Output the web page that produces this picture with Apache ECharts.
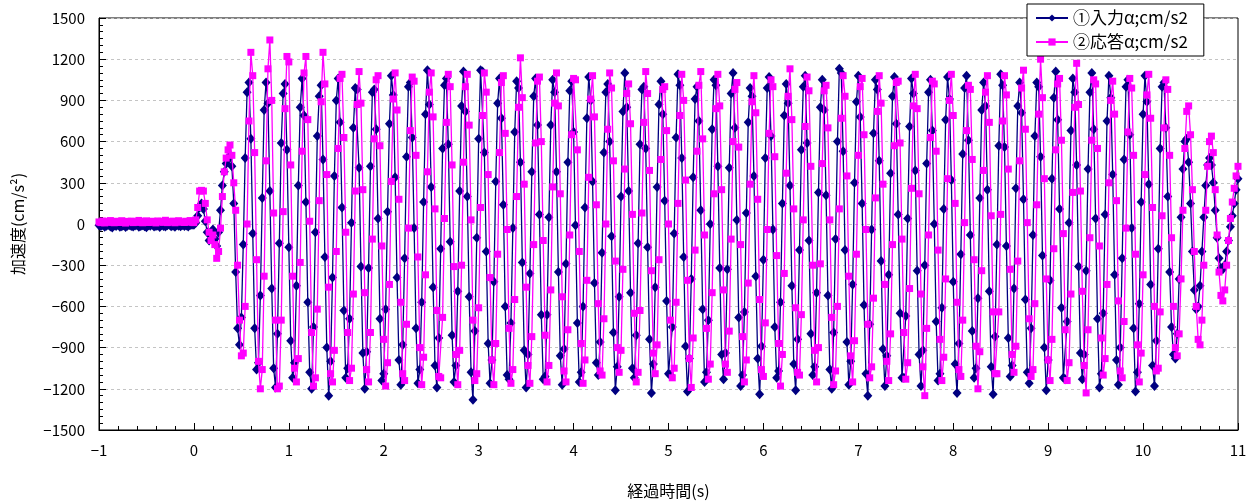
<!DOCTYPE html>
<html><head><meta charset="utf-8">
<script src="https://cdn.jsdelivr.net/npm/echarts@6.0.0/dist/echarts.min.js"></script>
<style>html,body{margin:0;padding:0;background:#fff}#c{width:1255px;height:504px}</style>
</head><body><div id="c"></div>
<script>
// sampling of the record (s)
const T_START = -1;
const T_STEP = 0.02;
const seriesNames = ['①入力α;cm/s2', '②応答α;cm/s2'];
const xTicks = [-1, 0, 1, 2, 3, 4, 5, 6, 7, 8, 9, 10, 11];
const yTicks = [-1500, -1200, -900, -600, -300, 0, 300, 600, 900, 1200, 1500];

// ① input acceleration (cm/s2), one value every 0.02 s from -1 s
const inputAcc = [
-10,-15,-8,-20,-12,-5,-18,-25,-10,-14,
-6,-20,-16,-9,-22,-12,-8,-15,-18,-11,
-7,-20,-14,-10,-17,-24,-9,-13,-6,-19,
-15,-11,-21,-8,-14,-18,-10,-5,-16,-12,
-20,-9,-13,-17,-7,-15,-11,-19,-8,-6,
-5,10,60,120,150,110,20,-60,-120,-90,-40,-110,-160,-60,100,280,380,440,470,500,420,
150,-350,-760,-880,-680,-150,480,960,1030,620,
-70,-760,-1060,-1010,-520,190,830,1030,880,240,
-470,-1050,-1190,-800,-140,590,950,1020,540,-170,
-850,-1120,-1010,-450,280,850,1060,790,160,-570,
-1080,-1200,-750,-60,640,930,1010,470,-240,-900,
-1250,-1000,-390,350,900,1060,740,120,-630,-1120,
-1050,-690,10,700,990,980,410,-310,-940,-1200,
-930,-320,420,960,980,690,40,-690,-1140,-1090,
-620,90,730,1080,940,340,-390,-990,-1170,-880,
-250,490,1000,1030,630,-30,-760,-1160,-1060,-570,
160,800,1120,870,270,-460,-1030,-1190,-830,-180,
550,1010,1060,580,-130,-810,-1150,-1030,-490,240,
860,1110,820,200,-530,-1080,-1280,-780,-100,620,
1120,1110,520,-200,-870,-1160,-990,-420,310,880,
1060,770,140,-600,-1100,-1130,-720,-30,670,1040,
990,450,-280,-920,-1190,-950,-360,380,930,1060,
720,70,-660,-1130,-1110,-660,50,720,1050,960,
380,-350,-960,-1170,-910,-290,450,970,1040,670,
-10,-720,-1150,-1080,-600,120,770,1070,
900,310,-430,-1010,-1100,-860,-210,520,960,1020,
600,-90,-790,-1210,-1040,-530,200,820,1100,850,
240,-500,-1050,-1120,-810,-140,580,980,1000,550,
-170,-840,-1230,-1020,-460,270,870,1040,800,170,
-560,-1090,-1100,-750,-70,630,1090,1010,480,-240,
-890,-1220,-980,-400,340,910,1000,750,100,-620,
-1150,-1080,-700,0,690,1050,1010,420,-320,-950,
-1130,-940,-330,410,950,1100,700,30,-680,-1180,
-1100,-640,80,740,990,930,350,-380,-980,-1240,
-890,-260,480,990,1070,640,-40,-750,-1120,-1070,
-570,150,790,1020,880,280,-450,-1020,-1210,-840,
-190,540,1000,1080,590,-120,-800,-1100,-1040,-500,
230,850,1050,830,210,-520,-1060,-1200,-790,-110,
600,1130,1100,530,-190,-860,-1170,-1000,-440,300,
890,1080,780,150,-590,-1090,-1250,-730,-40,660,
1050,980,460,-270,-910,-1180,-960,-370,370,930,
1070,730,70,-650,-1120,-1120,-670,40,710,1060,
950,390,-340,-950,-1180,-920,-300,440,960,1050,
680,0,-710,-1140,-1090,-610,110,760,1070,
910,320,-420,-1020,-1230,-870,-220,510,990,1080,
610,-80,-780,-1120,-1050,-540,190,830,1030,860,
250,-490,-1040,-1240,-820,-150,570,1090,1010,560,
-160,-830,-1110,-1030,-470,260,860,1030,810,180,
-550,-1080,-1160,-760,-80,640,1030,1000,490,-230,
-900,-1210,-990,-410,330,920,1110,760,110,-610,
-1120,-1130,-710,10,680,1060,960,430,-310,-940,
-1130,-950,-340,400,960,1100,690,40,-690,-1190,
-1090,-650,70,750,1080,920,360,-370,-990,-1170,
-900,-250,470,1000,1050,650,-30,-760,-1220,-1080,
-580,160,800,1080,890,290,-440,-1030,-1180,-850,
-180,550,
1000,1030,700,200,-350,-750,-950,-980,-800,-400,
50,400,600,620,450,150,-200,-480,-620,-600,
-450,-200,50,280,430,480,430,300,100,-100,
-250,-320,-330,-300,-200,-120,-20,60,150,250,330
];

// ② response acceleration (cm/s2), same sampling
const responseAcc = [
15,10,22,8,18,12,25,14,9,20,
16,11,24,13,7,19,15,21,10,17,
12,26,14,9,18,23,11,16,20,13,
8,22,15,19,12,27,10,17,14,21,
9,18,24,13,16,11,20,15,25,12,
10,30,120,240,245,240,150,30,-60,-120,-80,-150,-250,-200,-30,200,380,480,540,575,500,
300,100,-300,-700,-960,-940,-600,0,750,1250,
1080,520,-260,-1000,-1200,-1060,-380,460,1130,1340,
900,80,-700,-1200,-1180,-700,90,840,1220,1180,
430,-380,-1050,-1150,-980,-280,530,1100,1220,760,
20,-790,-1180,-1120,-620,170,890,1250,1020,360,
-460,-1090,-1150,-920,-200,550,1060,1090,630,-60,
-790,-1140,-1050,-510,240,870,1110,880,250,-500,
-1060,-1150,-790,-110,620,1050,1080,570,-160,-840,
-1180,-1010,-440,310,910,1100,830,180,-570,-1090,
-1140,-730,-30,680,1070,1040,500,-240,-900,-1170,
-970,-370,380,960,1100,780,110,-630,-1110,-1120,
-680,40,740,1090,1000,430,-310,-950,-1170,-920,
-300,450,1000,1090,720,30,-700,-1140,-1090,-610,
120,790,1100,960,360,-390,-990,-1170,-870,-220,
520,1030,1080,660,-40,-760,-1160,-1060,-550,200,
850,1210,920,290,-460,-1030,-1160,-820,-150,590,
1040,1070,600,-120,-810,-1150,-1030,-480,270,880,
1100,860,220,-530,-1070,-1150,-770,-80,650,1060,
1050,540,-200,-870,-1160,-990,-410,340,
910,1080,780,140,-580,-1070,-1100,-690,0,690,
1100,990,460,-270,-900,-1080,-920,-330,400,950,
1020,730,70,-650,-1150,-1080,-630,80,740,1110,
950,390,-340,-940,-1090,-880,-260,470,980,1000,
680,0,-700,-1120,-1050,-570,150,790,1090,900,
320,-410,-980,-1190,-830,-190,530,1010,1110,620,
-80,-760,-1130,-1020,-500,220,840,1090,860,250,
-480,-1020,-1080,-780,-110,600,980,1030,560,-150,
-820,-1150,-990,-430,290,890,1080,810,180,-550,
-1060,-1110,-720,-40,660,1050,1000,490,-230,-870,
-1180,-950,-360,370,930,1130,760,110,-610,-1080,
-1100,-660,30,710,1070,970,420,-300,-920,-1150,
-900,-290,440,970,1010,700,30,-680,-1170,-1070,
-600,110,770,1080,930,350,-380,-960,-1150,-850,
-220,500,1000,1060,650,-40,-730,-1120,-1040,-540,
190,820,1080,880,290,-440,-1000,-1140,-800,-150,
570,1030,1040,590,-110,-790,-1130,-1010,-470,260,
860,1090,840,220,-510,-1040,-1250,-760,-80,630,
1040,1020,530,-190,-840,-1140,-970,-400,330,
900,1090,790,150,-570,-1060,-1110,-700,10,680,
1010,980,470,-260,-890,-1200,-930,-340,390,960,
1080,740,60,-640,-1090,-1090,-640,70,750,1080,
940,400,-330,-950,-1080,-890,-270,460,990,1120,
690,10,-690,-1110,-1060,-580,140,800,1200,920,
330,-400,-990,-1140,-840,-180,540,1020,1060,610,
-70,-770,-1140,-1010,-510,230,850,1170,870,240,
-490,-1030,-1230,-770,-100,610,1050,1020,550,-160,
-830,-1100,-980,-440,300,900,1040,800,170,-560,
-1070,-1120,-710,-30,670,1060,990,500,-220,-880,
-1150,-940,-370,360,940,1090,770,120,-600,-1070,
-1050,-640,60,700,1050,980,500,-100,-600,-900,
-960,-800,-400,100,550,820,860,650,250,-200,
-600,-840,-880,-700,-300,100,420,600,640,520,
250,-80,-350,-520,-560,-480,-300,-120,40,160,
260,350,420
];

const toPairs = arr => arr.map((v, i) => [+(T_START + i * T_STEP).toFixed(2), v]);
const FONT = '"Noto Sans CJK JP", "Noto Sans", sans-serif';
const minus = v => String(v).replace('-', '\u2212');

const chart = echarts.init(document.getElementById('c'), null, { renderer: 'canvas' });
chart.setOption({
  animation: false,
  backgroundColor: '#ffffff',
  grid: { left: 99, right: 17, top: 18, bottom: 73, show: true, borderColor: '#000', borderWidth: 1 },
  legend: {
    orient: 'vertical', left: 1027, top: 4,
    backgroundColor: '#ffffff', borderColor: '#000', borderWidth: 1,
    padding: [5, 16, 5, 8], itemGap: 6, itemWidth: 32, itemHeight: 9,
    textStyle: { fontFamily: FONT, fontSize: 17, lineHeight: 18, color: '#000' },
    data: seriesNames
  },
  xAxis: {
    type: 'value', min: xTicks[0], max: xTicks[xTicks.length - 1], interval: 1,
    name: '経過時間(s)', nameLocation: 'middle', nameGap: 53,
    nameTextStyle: { fontFamily: FONT, fontSize: 16, color: '#000' },
    axisLine: { onZero: false, lineStyle: { color: '#000', width: 1 } },
    axisTick: { inside: true, length: 7, lineStyle: { color: '#000' } },
    minorTick: { show: true, splitNumber: 5, length: 4, lineStyle: { color: '#000' } },
    axisLabel: { margin: 13, fontFamily: FONT, fontSize: 15, color: '#000', formatter: minus },
    splitLine: { show: false }
  },
  yAxis: {
    type: 'value', min: yTicks[0], max: yTicks[yTicks.length - 1], interval: 300,
    name: '加速度(cm/s²)', nameLocation: 'middle', nameGap: 73, nameRotate: 90,
    nameTextStyle: { fontFamily: FONT, fontSize: 16, color: '#000' },
    axisLine: { show: true, onZero: false, lineStyle: { color: '#000', width: 1 } },
    axisTick: { show: true, inside: true, length: 7, lineStyle: { color: '#000' } },
    minorTick: { show: true, splitNumber: 6, length: 4, lineStyle: { color: '#000' } },
    axisLabel: { margin: 14, fontFamily: FONT, fontSize: 15, color: '#000', formatter: minus },
    splitLine: { show: true, lineStyle: { color: '#c4c4c4', width: 1, type: [3, 3] } }
  },
  series: [
    {
      name: seriesNames[0], type: 'line', data: toPairs(inputAcc),
      symbol: 'diamond', symbolSize: [9, 10], showAllSymbol: true,
      itemStyle: { color: '#000080' }, lineStyle: { color: '#000080', width: 1.3 }, z: 2
    },
    {
      name: seriesNames[1], type: 'line', data: toPairs(responseAcc),
      symbol: 'rect', symbolSize: 7, showAllSymbol: true,
      itemStyle: { color: '#ff00ff' }, lineStyle: { color: '#ff00ff', width: 1.3 }, z: 3
    }
  ]
});
</script>
</body></html>
